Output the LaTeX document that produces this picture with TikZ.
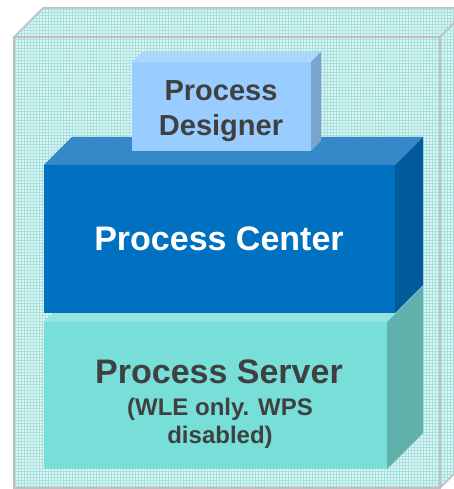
\documentclass[tikz,border=0pt]{standalone}
\usepackage{fontspec}
\setmainfont{Liberation Sans}
\usetikzlibrary{patterns}
\definecolor{wallbg}{RGB}{222,244,242}
\definecolor{wallmesh}{RGB}{168,226,222}
\definecolor{wallline}{RGB}{192,192,192}
\definecolor{designerfront}{RGB}{153,204,255}
\definecolor{designertop}{RGB}{172,214,255}
\definecolor{designerside}{RGB}{123,164,204}
\definecolor{centerfront}{RGB}{0,112,192}
\definecolor{centertop}{RGB}{53,137,201}
\definecolor{centerside}{RGB}{0,90,156}
\definecolor{serverfront}{RGB}{120,222,216}
\definecolor{servertop}{RGB}{147,229,225}
\definecolor{serverside}{RGB}{96,176,172}
\definecolor{labelgrey}{RGB}{64,64,64}
\begin{document}
\begin{tikzpicture}[x=1pt,y=1pt,
  wall/.style={preaction={fill=wallbg},pattern=grid,pattern color=wallmesh,draw=wallline,line width=1.5pt},
  slab/.style={anchor=south west,inner sep=0pt,outer sep=0pt},
  boxtext/.style={anchor=north,inner sep=0pt,align=center,text=labelgrey}]
\useasboundingbox (0,0) rectangle (454,489);
\clip (0,0) rectangle (454,489);
% enclosure
\node[slab,minimum width=426pt,minimum height=451pt] (frame) at (14,1) {};
\draw[wall] (frame.north west) -- ++(29,29) -- ++(426,0) -- (frame.north east) -- cycle;
\draw[wall] (frame.north east) -- ++(29,29) -- ++(0,-451) -- (frame.south east) -- cycle;
\draw[wall] (frame.south west) rectangle (frame.north east);
% Process Server
\node[slab,fill=serverfront,minimum width=343pt,minimum height=147pt] (server) at (44,20) {};
\fill[servertop] (server.north west) -- ++(36,36) -- ++(343,0) -- (server.north east) -- cycle;
\fill[serverside] (server.north east) -- ++(36,36) -- ++(0,-147) -- (server.south east) -- cycle;
% Process Center
\node[slab,fill=centerfront,minimum width=351pt,minimum height=148pt] (center) at (44,176) {};
\fill[centertop] (center.north west) -- ++(28,28) -- ++(351,0) -- (center.north east) -- cycle;
\fill[centerside] (center.north east) -- ++(28,28) -- ++(0,-148) -- (center.south east) -- cycle;
% Process Designer
\node[slab,fill=designerfront,minimum width=179pt,minimum height=89pt] (designer) at (132,338) {};
\fill[designertop] (designer.north west) -- ++(10,10) -- ++(179,0) -- (designer.north east) -- cycle;
\fill[designerside] (designer.north east) -- ++(10,10) -- ++(0,-89) -- (designer.south east) -- cycle;
% labels
\node[boxtext,font=\fontsize{29}{35}\selectfont\bfseries] (designerlabel) at (221,409) {Process\\Designer};
\node[boxtext,text=white,font=\fontsize{34}{40}\selectfont\bfseries] (centerlabel) at (219,262) {Process Center};
\node[boxtext,font=\fontsize{34}{40}\selectfont\bfseries] (serverlabel) at (219,129) {Process Server};
\node[boxtext,font=\fontsize{24}{28}\selectfont\bfseries] (servernote) at (220,91) {(WLE only. WPS\\disabled)};
\end{tikzpicture}
\end{document}
